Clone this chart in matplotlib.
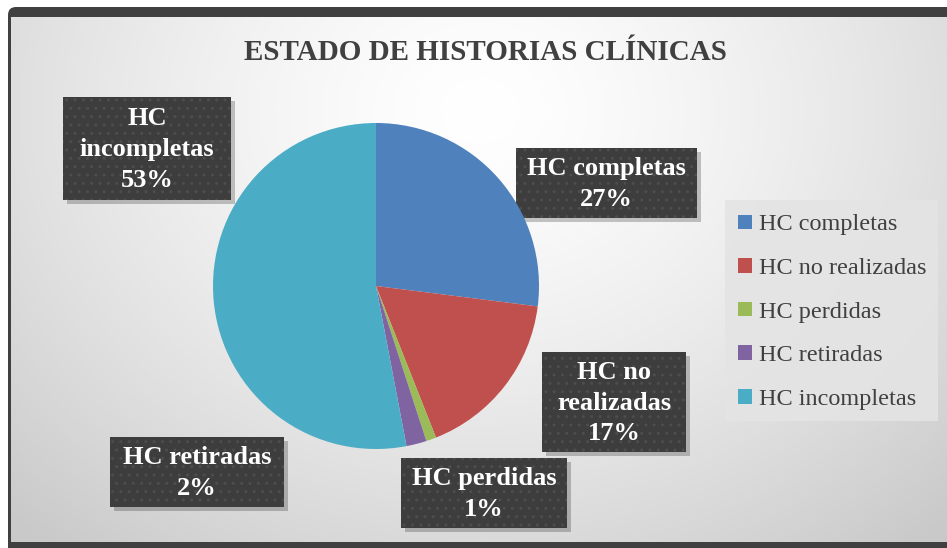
import numpy as np
import matplotlib
matplotlib.use("Agg")
import matplotlib.pyplot as plt
from matplotlib.patches import Rectangle, FancyBboxPatch

# ------------------------------------------------------------------
# Data
categories = ["HC completas", "HC no realizadas", "HC perdidas", "HC retiradas", "HC incompletas"]
values = [27, 17, 1, 2, 53]
label_texts = ["HC completas", "HC no\nrealizadas", "HC perdidas", "HC retiradas", "HC\nincompletas"]
title = "ESTADO DE HISTORIAS CLÍNICAS"

colors = ["#4F81BD", "#C0504D", "#9BBB59", "#8064A2", "#4BACC6"]

# label boxes (left, top, width, height) in pixels
label_boxes = [(516, 148, 181, 70), (542, 352, 144, 100), (401, 458, 166, 70),
               (110, 437, 174, 70), (63, 97, 168, 103)]

W, H = 947, 548
plt.rcParams['font.family'] = ['Liberation Serif', 'DejaVu Serif']
fig = plt.figure(figsize=(W / 100, H / 100), dpi=100)
fig.patch.set_facecolor("white")

def px(x0, y0, w, h):
    return (x0 / W, 1 - (y0 + h) / H, w / W, h / H)

# frame
frame = fig.add_axes([0, 0, 1, 1])
frame.set_xlim(0, W)
frame.set_ylim(H, 0)
frame.axis("off")
frame.add_patch(FancyBboxPatch((8, 7), W, H, boxstyle="round,pad=0,rounding_size=8",
                               facecolor="#404040", edgecolor="none"))

# gradient panel
yy, xx = np.mgrid[17:542, 11:W]
d = np.sqrt(((xx - 480) / 680.0) ** 2 + ((yy - 110) / 560.0) ** 2)
shade = 1.0 - 0.21 * np.clip(d, 0, 1) ** 1.4
frame.imshow(np.dstack([shade] * 3), extent=(11, W, 542, 17), aspect="auto", zorder=1)

# title
frame.text(485, 52, title, ha="center", va="center", fontsize=21, fontweight="bold",
           color="#404040", zorder=5)

# pie
cx, cy, r = 376, 286, 163
ax = fig.add_axes(px(cx - r, cy - r, 2 * r, 2 * r))
wedges, _ = ax.pie(values, colors=colors, startangle=90, counterclock=False,
                   wedgeprops=dict(linewidth=0))
ax.set_xlim(-1, 1)
ax.set_ylim(-1, 1)
ax.set_aspect("auto")
ax.axis("off")

# data labels
total = sum(values)
for txt, v, (bx, by, bw, bh) in zip(label_texts, values, label_boxes):
    frame.add_patch(Rectangle((bx + 4, by + 4), bw, bh, facecolor="black", alpha=0.22,
                              edgecolor="none", zorder=6))
    frame.add_patch(Rectangle((bx, by), bw, bh, facecolor="#3d3d3d", edgecolor="#4d4d4d",
                              linewidth=0, hatch="..", zorder=7))
    frame.text(bx + bw / 2, by + bh / 2 + 1, f"{txt}\n{v / total * 100:.0f}%", ha="center",
               va="center", fontsize=19, fontweight="bold", color="white",
               linespacing=1.42, zorder=8)

# legend
frame.add_patch(Rectangle((725, 200), 213, 221, facecolor="#e4e4e4", edgecolor="none",
                          alpha=0.9, zorder=3))
leg = fig.legend(wedges, categories, loc="upper left",
                 bbox_to_anchor=(719 / W, 1 - 195 / H), frameon=False, fontsize=17.5,
                 handlelength=0.55, handleheight=0.55, handletextpad=0.3,
                 labelspacing=0.93, borderpad=0.3)
for t in leg.get_texts():
    t.set_color("#404040")

fig.savefig("out.png", dpi=100)
